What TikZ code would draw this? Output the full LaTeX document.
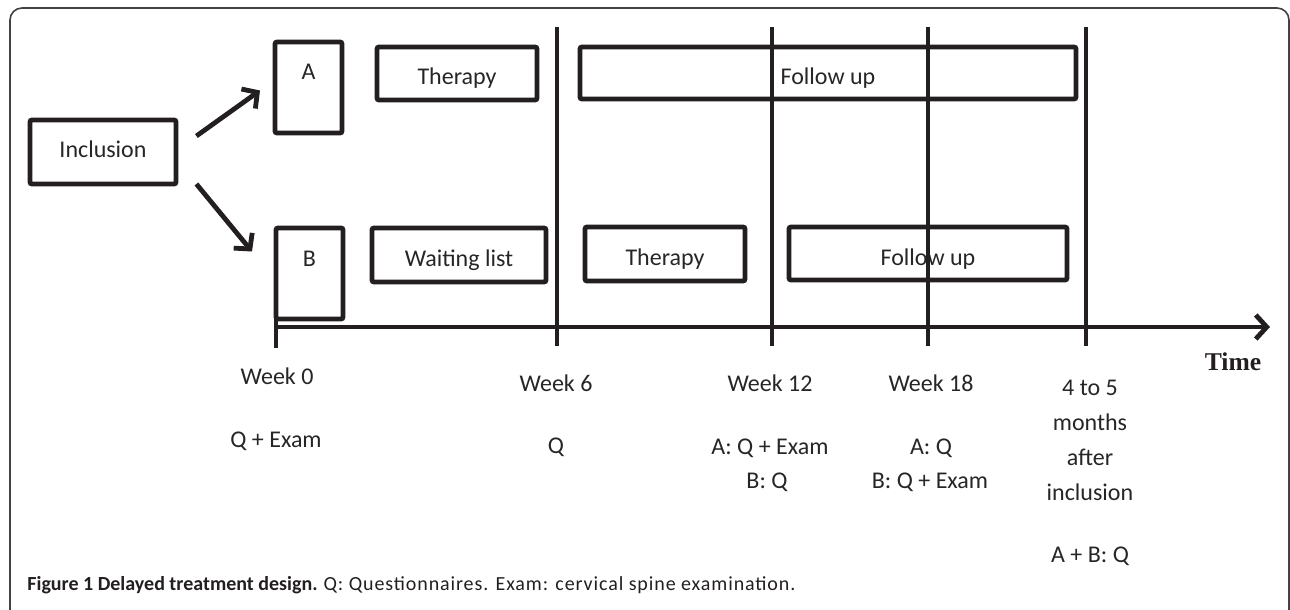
\documentclass[tikz,border=0pt]{standalone}
\usepackage{fontspec}
\setmainfont{Carlito}
\newfontfamily\timefont{Liberation Serif}
\usetikzlibrary{arrows.meta}

\definecolor{ink}{RGB}{35,31,32}
\definecolor{txt}{RGB}{38,38,38}

\tikzset{
  stagebox/.style={draw=ink, line width=2.4pt, rounded corners=1pt,
    text=txt, font=\fontsize{12}{14}\selectfont,
    text height=11.5pt, text depth=0pt, inner sep=0pt},
  armbox/.style={draw=ink, line width=2.4pt, rounded corners=1pt,
    inner sep=0pt, outer sep=0pt, minimum width=33.5pt, minimum height=45.5pt},
  flow/.style={draw=ink, line width=2.4pt,
    -{Straight Barb[length=5.5pt,width=12pt]}},
  bar/.style={draw=ink, line width=2.2pt},
  lbl/.style={text=txt, font=\fontsize{12}{14}\selectfont, anchor=base,
    inner sep=0pt}
}

\begin{document}
\begin{tikzpicture}[x=0.5pt, y=-0.5pt]
\useasboundingbox (0,0) rectangle (1290,610);

    % Frame
    \draw[ink!85, line width=0.8pt, rounded corners=6pt]
    (10,610) -- (10,8) -- (1289,8) -- (1289,610);

    % Inclusion and arms
    \node[stagebox, text height=5pt, minimum width=73pt, minimum height=32pt]
    (incl) at (103,152) {Inclusion};
    \node[armbox, label={[lbl, yshift=-19pt]north:A}] (A) at (308.5,87.5) {};
    \node[armbox, label={[lbl, yshift=-19pt]north:B}] (B) at (309.5,273.5) {};

    \draw[flow] ([xshift=9pt, yshift=8pt]incl.east)
    -- ([xshift=-7.5pt, yshift=-1.5pt]A.west);
    \draw[flow] ([xshift=9pt, yshift=-16pt]incl.east)
    -- ([xshift=-12pt, yshift=11pt]B.west);

    % Arm A
    \node[stagebox, minimum width=80pt, minimum height=26.5pt]
    (therA) at (457,73.5) {Therapy};
    \node[stagebox, minimum width=248pt, minimum height=26pt]
    (follA) at (828,73) {Follow up};

    % Arm B
    \node[stagebox, minimum width=87pt, minimum height=27pt]
    (wait) at (459,255) {Waiting list};
    \node[stagebox, minimum width=80pt, minimum height=27pt]
    (therB) at (665,254) {Therapy};
    \node[stagebox, minimum width=139pt, minimum height=26.5pt]
    (follB) at (928,253.5) {Follow up};

    % Time axis
    \coordinate (t0) at (276,327);
    \coordinate (tend) at (1270,327);
    \draw[ink, line width=2.4pt, -{Straight Barb[length=5.5pt,width=12pt]}]
    (t0) -- (tend);
    \draw[bar] (B.south west) -- ++(0,29);
    \foreach \x/\n in {557/w6, 772/w12, 928/w18, 1086/mo}
    \draw[bar] (\x,27) coordinate (\n) -- (\x,346);

    \node[lbl, text=ink, font=\timefont\bfseries\fontsize{12.8}{15}\selectfont]
    (time) at (1233,370) {Time};

    % Visits
    \node[lbl] (v0) at (277,384) {Week 0};
    \node[lbl] (q0) at (276,447) {Q + Exam};
    \node[lbl] (v6) at (556,391) {Week 6};
    \node[lbl] (q6) at (556,453) {Q};
    \node[lbl] (v12) at (770,391) {Week 12};
    \node[lbl] (q12a) at (770,454) {A: Q + Exam};
    \node[lbl] (q12b) at (767,488) {B: Q};
    \node[lbl] (v18) at (931,391) {Week 18};
    \node[lbl] (q18a) at (931,454) {A: Q};
    \node[lbl] (q18b) at (930,488) {B: Q + Exam};
    \node[lbl, anchor=north, align=center] (vmo) at (1090,380)
    {4 to 5\\[3.5pt]months\\[3.5pt]after\\[3.5pt]inclusion};
    \node[lbl] (qmo) at (1090,562) {A + B: Q};

    % Caption
    \node[anchor=base west, inner sep=0pt, text=ink,
    font=\fontsize{10}{12}\selectfont] (cap) at (27,590)
    {\textbf{Figure 1 Delayed treatment design.} {\addfontfeature{LetterSpace=4.5}Q:
    Questionnaires. Exam: cervical spine examination.}};

\end{tikzpicture}
\end{document}
